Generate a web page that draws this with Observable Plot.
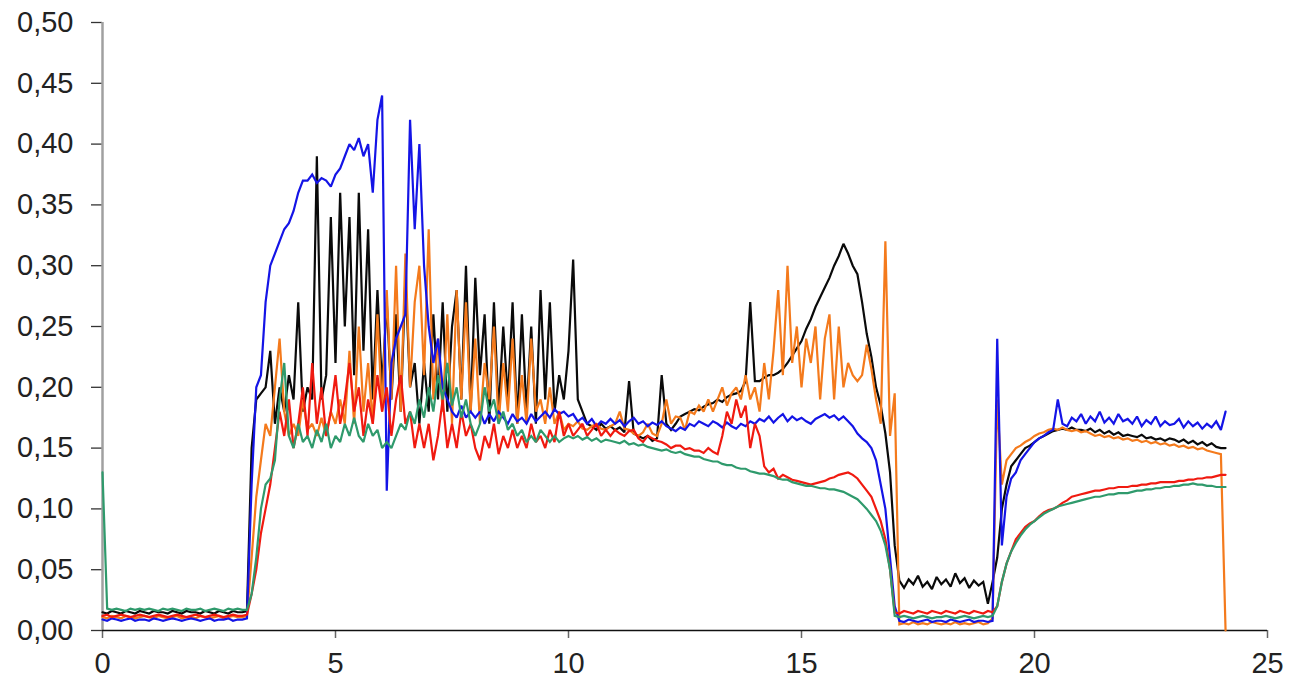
<!DOCTYPE html>
<html>
<head>
<meta charset="utf-8">
<script src="https://cdn.jsdelivr.net/npm/d3@7"></script>
<script src="https://cdn.jsdelivr.net/npm/@observablehq/plot@0.6"></script>
<style>
  html, body { margin: 0; padding: 0; background: #fff; }
  #chart { width: 1301px; height: 683px; }
</style>
</head>
<body>
<div id="chart"></div>
<script>
// Sampling interval of the recordings (x units)
const sampleStep = 0.1;

// Tick values and labels
const xTickValues = [0, 5, 10, 15, 20, 25];
const yTickValues = [0, 0.05, 0.10, 0.15, 0.20, 0.25, 0.30, 0.35, 0.40, 0.45, 0.50];
const yTickLabels = ["0,00","0,05","0,10","0,15","0,20","0,25","0,30","0,35","0,40","0,45","0,50"];

// Series names (drawing order) and colours
const seriesNames = ["S-black", "S-orange", "S-blue", "S-red", "S-green"];
const seriesColors = ["#0a0a0a", "#f47a1c", "#1414e6", "#f01a10", "#2f9a6c"];

// Values sampled every 0.1 from 0.0 to 24.1
const blue = [
0.009,0.008,0.010,0.009,0.008,0.009,0.010,0.008,0.009,0.009,
0.008,0.010,0.009,0.008,0.009,0.010,0.009,0.008,0.009,0.010,
0.009,0.008,0.009,0.010,0.008,0.009,0.009,0.010,0.008,0.009,
0.009,0.010,0.120,0.200,0.210,0.270,0.300,0.310,0.320,0.330,
0.335,0.345,0.360,0.370,0.370,0.375,0.368,0.372,0.370,0.365,
0.375,0.380,0.390,0.400,0.395,0.405,0.390,0.400,0.360,0.420,
0.440,0.115,0.220,0.240,0.250,0.260,0.420,0.330,0.400,0.300,
0.250,0.220,0.240,0.200,0.190,0.180,0.175,0.185,0.175,0.180,
0.175,0.180,0.170,0.178,0.172,0.180,0.175,0.170,0.178,0.172,
0.175,0.170,0.178,0.172,0.176,0.180,0.175,0.182,0.178,0.180,
0.176,0.178,0.172,0.175,0.170,0.174,0.168,0.172,0.170,0.174,
0.170,0.173,0.168,0.172,0.175,0.170,0.172,0.168,0.171,0.169,
0.172,0.168,0.166,0.164,0.167,0.165,0.170,0.168,0.172,0.170,
0.168,0.172,0.170,0.167,0.171,0.168,0.166,0.170,0.168,0.172,
0.170,0.174,0.172,0.176,0.171,0.175,0.178,0.172,0.176,0.173,
0.175,0.172,0.170,0.174,0.176,0.178,0.175,0.177,0.173,0.176,
0.172,0.168,0.162,0.158,0.155,0.150,0.140,0.120,0.100,0.060,
0.020,0.008,0.007,0.009,0.008,0.007,0.008,0.009,0.007,0.008,
0.008,0.007,0.009,0.008,0.007,0.008,0.009,0.007,0.008,0.008,
0.007,0.008,0.240,0.070,0.110,0.125,0.130,0.140,0.145,0.150,
0.155,0.158,0.160,0.163,0.165,0.190,0.170,0.168,0.175,0.172,
0.178,0.170,0.176,0.172,0.180,0.171,0.175,0.170,0.178,0.172,
0.174,0.170,0.176,0.168,0.173,0.170,0.176,0.168,0.172,0.169,
0.170,0.174,0.167,0.172,0.168,0.171,0.166,0.170,0.167,0.172,
0.165,0.180
];

const black = [
0.015,0.014,0.016,0.015,0.014,0.016,0.015,0.014,0.016,0.015,
0.014,0.016,0.015,0.015,0.014,0.016,0.015,0.014,0.016,0.015,
0.015,0.014,0.016,0.015,0.014,0.016,0.015,0.014,0.016,0.015,
0.015,0.016,0.150,0.190,0.195,0.200,0.230,0.170,0.200,0.180,
0.210,0.190,0.270,0.180,0.200,0.190,0.390,0.190,0.210,0.340,
0.220,0.360,0.250,0.340,0.210,0.360,0.230,0.330,0.190,0.280,
0.200,0.270,0.190,0.260,0.180,0.290,0.200,0.220,0.170,0.220,
0.180,0.260,0.190,0.270,0.180,0.250,0.280,0.190,0.300,0.180,
0.290,0.210,0.260,0.170,0.270,0.180,0.250,0.190,0.270,0.170,
0.260,0.180,0.250,0.170,0.280,0.190,0.270,0.180,0.210,0.190,
0.230,0.305,0.190,0.180,0.170,0.168,0.165,0.170,0.166,0.168,
0.165,0.167,0.163,0.205,0.162,0.160,0.158,0.160,0.156,0.158,
0.210,0.170,0.165,0.170,0.176,0.178,0.180,0.182,0.181,0.184,
0.186,0.187,0.190,0.188,0.192,0.194,0.195,0.197,0.205,0.270,
0.205,0.205,0.208,0.210,0.210,0.212,0.215,0.220,0.226,0.232,
0.238,0.248,0.256,0.266,0.274,0.282,0.290,0.300,0.308,0.318,
0.310,0.300,0.293,0.270,0.244,0.225,0.200,0.185,0.162,0.130,
0.070,0.041,0.035,0.042,0.038,0.045,0.036,0.040,0.034,0.044,
0.038,0.042,0.036,0.047,0.039,0.043,0.035,0.041,0.037,0.040,
0.022,0.040,0.060,0.100,0.120,0.135,0.140,0.145,0.150,0.152,
0.155,0.158,0.160,0.162,0.164,0.165,0.166,0.165,0.167,0.165,
0.165,0.164,0.166,0.163,0.165,0.162,0.164,0.161,0.163,0.160,
0.161,0.160,0.159,0.161,0.158,0.159,0.157,0.158,0.156,0.158,
0.157,0.155,0.157,0.154,0.156,0.153,0.155,0.152,0.154,0.151,
0.150,0.150
];

const orange = [
0.011,0.010,0.012,0.011,0.010,0.012,0.011,0.010,0.011,0.012,
0.011,0.010,0.012,0.011,0.010,0.011,0.012,0.010,0.011,0.011,
0.010,0.012,0.011,0.010,0.011,0.012,0.010,0.011,0.012,0.011,
0.011,0.012,0.060,0.110,0.140,0.170,0.160,0.200,0.240,0.180,
0.160,0.170,0.160,0.190,0.165,0.170,0.160,0.175,0.160,0.180,
0.170,0.190,0.170,0.230,0.170,0.250,0.180,0.220,0.170,0.260,
0.180,0.280,0.190,0.300,0.180,0.310,0.200,0.270,0.300,0.210,
0.330,0.190,0.240,0.180,0.260,0.170,0.280,0.190,0.270,0.180,
0.240,0.170,0.220,0.190,0.250,0.170,0.220,0.180,0.240,0.170,
0.210,0.170,0.240,0.180,0.190,0.170,0.200,0.170,0.180,0.165,
0.170,0.168,0.172,0.166,0.165,0.168,0.170,0.166,0.165,0.168,
0.170,0.180,0.166,0.165,0.162,0.160,0.163,0.170,0.162,0.160,
0.170,0.190,0.170,0.176,0.175,0.165,0.180,0.178,0.185,0.180,
0.190,0.180,0.190,0.200,0.185,0.195,0.200,0.190,0.210,0.190,
0.200,0.180,0.220,0.190,0.230,0.280,0.210,0.300,0.220,0.250,
0.200,0.240,0.220,0.250,0.190,0.240,0.260,0.190,0.250,0.200,
0.220,0.210,0.205,0.210,0.235,0.215,0.190,0.170,0.320,0.160,
0.195,0.005,0.006,0.005,0.007,0.005,0.006,0.005,0.007,0.006,
0.005,0.006,0.005,0.007,0.005,0.006,0.005,0.006,0.007,0.005,
0.006,0.010,0.190,0.120,0.140,0.145,0.150,0.152,0.155,0.157,
0.160,0.162,0.163,0.165,0.166,0.165,0.167,0.165,0.164,0.165,
0.163,0.164,0.162,0.160,0.161,0.159,0.160,0.158,0.159,0.157,
0.158,0.156,0.157,0.155,0.156,0.154,0.155,0.153,0.154,0.152,
0.153,0.151,0.152,0.150,0.151,0.149,0.150,0.148,0.147,0.146,
0.145,0.000
];

const red = [
0.012,0.013,0.011,0.012,0.013,0.012,0.011,0.012,0.013,0.012,
0.011,0.012,0.013,0.012,0.011,0.012,0.013,0.012,0.011,0.012,
0.013,0.012,0.011,0.012,0.013,0.012,0.011,0.012,0.013,0.012,
0.012,0.013,0.030,0.050,0.080,0.100,0.120,0.150,0.180,0.160,
0.190,0.150,0.170,0.200,0.160,0.220,0.170,0.200,0.160,0.180,
0.210,0.170,0.190,0.220,0.180,0.200,0.160,0.190,0.170,0.210,
0.180,0.200,0.160,0.190,0.210,0.170,0.180,0.150,0.170,0.150,
0.170,0.140,0.160,0.190,0.150,0.170,0.150,0.180,0.160,0.170,
0.150,0.140,0.160,0.150,0.170,0.145,0.160,0.150,0.165,0.150,
0.160,0.150,0.170,0.155,0.160,0.150,0.165,0.155,0.180,0.160,
0.170,0.160,0.165,0.170,0.160,0.165,0.170,0.160,0.165,0.160,
0.165,0.162,0.160,0.164,0.165,0.158,0.155,0.160,0.158,0.156,
0.155,0.153,0.150,0.152,0.152,0.149,0.150,0.148,0.148,0.146,
0.150,0.147,0.145,0.160,0.180,0.170,0.190,0.175,0.185,0.150,
0.170,0.160,0.135,0.130,0.133,0.125,0.128,0.126,0.124,0.123,
0.122,0.121,0.120,0.121,0.122,0.123,0.125,0.126,0.128,0.129,
0.130,0.128,0.125,0.120,0.115,0.110,0.100,0.090,0.075,0.050,
0.015,0.014,0.016,0.015,0.014,0.016,0.015,0.014,0.016,0.015,
0.014,0.016,0.015,0.014,0.016,0.015,0.014,0.016,0.015,0.014,
0.016,0.015,0.020,0.040,0.055,0.065,0.075,0.080,0.085,0.088,
0.090,0.094,0.097,0.099,0.100,0.102,0.105,0.107,0.110,0.111,
0.112,0.113,0.114,0.115,0.115,0.116,0.117,0.117,0.118,0.118,
0.118,0.119,0.119,0.120,0.120,0.121,0.121,0.122,0.122,0.122,
0.122,0.123,0.123,0.124,0.124,0.125,0.125,0.126,0.126,0.127,
0.128,0.128
];

const green = [
0.130,0.018,0.017,0.018,0.017,0.016,0.018,0.017,0.018,0.017,
0.018,0.017,0.016,0.018,0.017,0.018,0.017,0.016,0.018,0.017,
0.017,0.018,0.016,0.017,0.018,0.017,0.016,0.018,0.017,0.018,
0.017,0.017,0.030,0.060,0.100,0.120,0.125,0.140,0.190,0.220,
0.160,0.150,0.170,0.155,0.160,0.150,0.165,0.155,0.170,0.150,
0.160,0.155,0.170,0.160,0.175,0.160,0.155,0.170,0.160,0.165,
0.150,0.155,0.150,0.160,0.170,0.165,0.180,0.170,0.190,0.175,
0.200,0.180,0.210,0.190,0.220,0.185,0.200,0.175,0.190,0.170,
0.160,0.170,0.200,0.180,0.190,0.170,0.180,0.165,0.170,0.160,
0.165,0.155,0.160,0.155,0.165,0.160,0.155,0.160,0.155,0.158,
0.160,0.158,0.160,0.157,0.159,0.156,0.158,0.155,0.157,0.156,
0.155,0.154,0.156,0.153,0.154,0.152,0.153,0.151,0.150,0.149,
0.148,0.149,0.147,0.146,0.147,0.145,0.144,0.143,0.143,0.141,
0.140,0.139,0.139,0.137,0.136,0.136,0.134,0.133,0.133,0.131,
0.130,0.129,0.129,0.128,0.127,0.125,0.124,0.124,0.122,0.121,
0.120,0.119,0.119,0.118,0.117,0.117,0.116,0.116,0.115,0.114,
0.112,0.110,0.108,0.104,0.100,0.095,0.090,0.082,0.070,0.050,
0.012,0.011,0.012,0.011,0.010,0.011,0.012,0.011,0.010,0.011,
0.011,0.012,0.011,0.010,0.011,0.012,0.011,0.010,0.011,0.012,
0.011,0.012,0.020,0.040,0.055,0.065,0.072,0.078,0.083,0.087,
0.090,0.093,0.096,0.098,0.100,0.102,0.103,0.104,0.105,0.106,
0.107,0.108,0.109,0.110,0.110,0.111,0.112,0.112,0.113,0.113,
0.113,0.114,0.115,0.115,0.116,0.116,0.117,0.117,0.118,0.118,
0.119,0.119,0.120,0.120,0.121,0.120,0.120,0.119,0.119,0.118,
0.118,0.118
];

const seriesValues = [black, orange, blue, red, green];

const rows = [];
seriesNames.forEach((name, k) => {
  seriesValues[k].forEach((v, i) => rows.push({series: name, t: +(i * sampleStep).toFixed(1), v}));
});

const yLabel = d => {
  const i = yTickValues.findIndex(v => Math.abs(v - d) < 1e-9);
  return i >= 0 ? yTickLabels[i] : "";
};

const chart = Plot.plot({
  width: 1301,
  height: 683,
  marginLeft: 102,
  marginRight: 34,
  marginTop: 22,
  marginBottom: 53,
  style: {fontFamily: "'Liberation Sans', Arial, sans-serif", fontSize: "29px", color: "#222", background: "#fff"},
  x: {domain: [0, 25]},
  y: {domain: [0, 0.5]},
  color: {type: "categorical", domain: seriesNames, range: seriesColors},
  marks: [
    Plot.axisY({ticks: yTickValues, tickFormat: yLabel, tickSize: 11, tickPadding: 18, stroke: "#333", strokeWidth: 1.3, fill: "#222", label: null}),
    Plot.axisX({ticks: xTickValues, tickFormat: d => String(d), tickSize: 8, tickPadding: 14, stroke: "#666", strokeWidth: 1.5, fill: "#222", label: null}),
    Plot.ruleX([0], {y1: 0, y2: 0.5, stroke: "#a0a0a0", strokeWidth: 2.5}),
    Plot.ruleY([0], {x1: 0, x2: 25, stroke: "#111", strokeWidth: 1.6}),
    ...seriesNames.map(name => Plot.line(rows.filter(r => r.series === name), {
      x: "t", y: "v", stroke: "series", strokeWidth: 2.2, strokeLinejoin: "miter", strokeMiterlimit: 2
    }))
  ]
});

document.getElementById("chart").appendChild(chart);
</script>
</body>
</html>
